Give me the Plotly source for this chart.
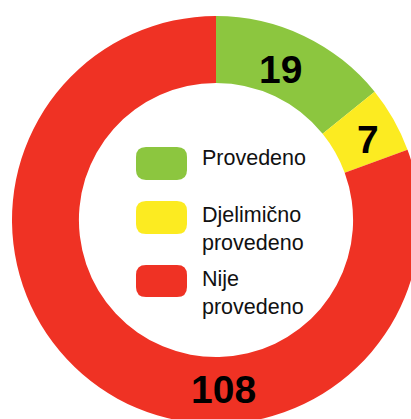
import re
import plotly.graph_objects as go

# ---- data ----
labels = ["Provedeno", "Djelimično provedeno", "Nije provedeno"]
legend_text = ["Provedeno", "Djelimično<br>provedeno", "Nije<br>provedeno"]
values = [19, 7, 108]
colors = ["#8CC63F", "#FCEB21", "#EF3224"]

# ---- geometry (pixels, figure is larger than the window so the donut is cropped) ----
W, H = 430, 430
cx, cy, R = 216, 220, 204  # centre & outer radius in page px (from top-left)
hole = 0.672

def px(x):
    return x / W

def py(y):
    return 1 - y / H

fig = go.Figure(
    go.Pie(
        labels=labels,
        values=values,
        marker=dict(colors=colors, line=dict(width=0)),
        hole=hole,
        sort=False,
        direction="clockwise",
        rotation=0,
        textinfo="none",
        hoverinfo="label+value",
        domain=dict(x=[px(cx - R), px(cx + R)], y=[py(cy + R), py(cy - R)]),
        showlegend=False,
    )
)

# value labels
value_pos = [(280, 69), (368, 139), (223, 389)]
for v, (x, y) in zip(values, value_pos):
    fig.add_annotation(
        x=px(x), y=py(y), xref="paper", yref="paper",
        text=f"<b>{v}</b>", showarrow=False,
        font=dict(family="Liberation Sans, Arial, sans-serif", size=39, color="#000000"),
        xanchor="center", yanchor="middle",
    )

# custom legend with rounded swatches
sw_x0, sw_x1 = 136, 187
sw_rows = [(147, 180), (201, 234), (265, 297)]
text_y = [158, 229, 292.5]
rad = 10
for col, (y0, y1), txt, ty in zip(colors, sw_rows, legend_text, text_y):
    path = (
        f"M {sw_x0 + rad} {y0} L {sw_x1 - rad} {y0} Q {sw_x1} {y0} {sw_x1} {y0 + rad} "
        f"L {sw_x1} {y1 - rad} Q {sw_x1} {y1} {sw_x1 - rad} {y1} "
        f"L {sw_x0 + rad} {y1} Q {sw_x0} {y1} {sw_x0} {y1 - rad} "
        f"L {sw_x0} {y0 + rad} Q {sw_x0} {y0} {sw_x0 + rad} {y0} Z"
    )
    toks = path.split()
    out = []
    is_x = True
    for t in toks:
        if re.match(r"^[A-Z]$", t):
            out.append(t)
            is_x = True
        else:
            val = float(t)
            out.append(f"{px(val):.5f}" if is_x else f"{py(val):.5f}")
            is_x = not is_x
    fig.add_shape(type="path", path=" ".join(out), xref="paper", yref="paper",
                  fillcolor=col, line=dict(width=0))
    fig.add_annotation(
        x=px(200), y=py(ty), xref="paper", yref="paper",
        text=txt, showarrow=False, align="left",
        font=dict(family="Liberation Sans, Arial, sans-serif", size=21.5, color="#111111"),
        xanchor="left", yanchor="middle",
    )

fig.update_layout(
    width=W, height=H,
    margin=dict(l=0, r=0, t=0, b=0),
    paper_bgcolor="white", plot_bgcolor="white",
)

fig.write_html(
    "out.html",
    config={"displayModeBar": False},
    post_script="document.body.style.margin='0';document.body.style.overflow='hidden';",
)
